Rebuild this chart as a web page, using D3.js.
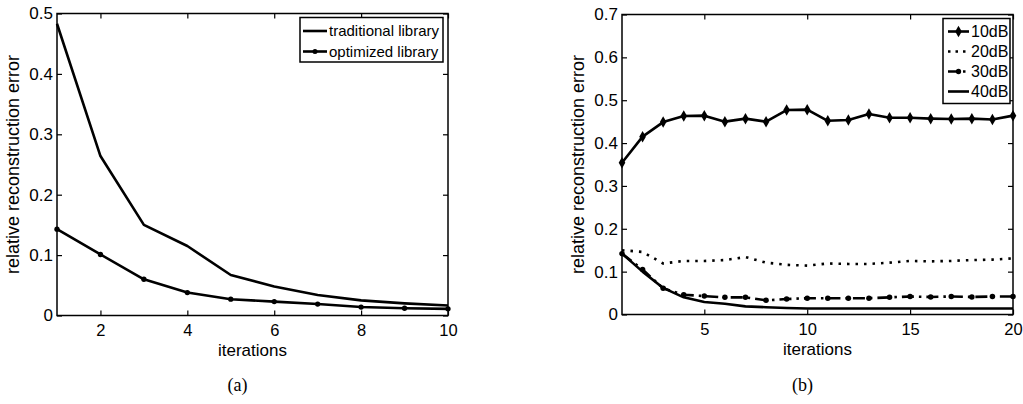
<!DOCTYPE html>
<html><head><meta charset="utf-8">
<script src="https://cdn.jsdelivr.net/npm/d3@7"></script>
<style>body{margin:0;background:#fff}svg{display:block}text{font-family:"Liberation Sans",Arial,sans-serif;fill:#000}</style>
</head><body><svg id="c" width="1023" height="404"></svg>
<script>
// Panel (a)
const itersA = [1,2,3,4,5,6,7,8,9,10];
const traditional = [0.483,0.264,0.150,0.115,0.067,0.048,0.034,0.025,0.020,0.0165];
const optimized   = [0.143,0.101,0.060,0.038,0.027,0.023,0.019,0.014,0.012,0.011];
const xTicksA = [2,4,6,8,10];
const yTicksA = [0,0.1,0.2,0.3,0.4,0.5];
const legendA = ["traditional library","optimized library"];
// Panel (b)
const itersB = d3.range(1,21);
const db10 = [0.354,0.415,0.449,0.463,0.464,0.450,0.457,0.450,0.477,0.478,0.452,0.454,0.468,0.459,0.459,0.457,0.456,0.457,0.455,0.464];
const db20 = [0.150,0.146,0.119,0.125,0.125,0.127,0.134,0.121,0.116,0.114,0.119,0.118,0.118,0.121,0.125,0.124,0.125,0.127,0.128,0.131];
const db30 = [0.142,0.105,0.061,0.046,0.043,0.040,0.040,0.033,0.036,0.038,0.038,0.038,0.038,0.040,0.042,0.041,0.042,0.041,0.042,0.042];
const db40 = [0.142,0.100,0.062,0.040,0.029,0.025,0.019,0.017,0.015,0.014,0.014,0.014,0.014,0.014,0.014,0.014,0.014,0.014,0.014,0.014];
const xTicksB = [5,10,15,20];
const yTicksB = [0,0.1,0.2,0.3,0.4,0.5,0.6,0.7];
const legendB = ["10dB","20dB","30dB","40dB"];
const ylabel = "relative reconstruction error", xlabel = "iterations";

const svg = d3.select("#c");

function panel(cfg){
  const {x0,x1,y0,y1,xd,yd,xt,yt,cap} = cfg;
  const x = d3.scaleLinear().domain(xd).range([x0,x1]);
  const y = d3.scaleLinear().domain(yd).range([y1,y0]);
  const g = svg.append("g");
  const tl = 5;
  const axB = d3.axisBottom(x).tickValues(xt).tickSize(-tl).tickPadding(9).tickFormat(d3.format("d"));
  const axT = d3.axisTop(x).tickValues(xt).tickSize(-tl).tickFormat("");
  const axL = d3.axisLeft(y).tickValues(yt).tickSize(-tl).tickPadding(4).tickFormat(d=>d===0?"0":d3.format(".1f")(d));
  const axR = d3.axisRight(y).tickValues(yt).tickSize(-tl).tickFormat("");
  [[axB,`translate(0,${y1})`,16.5],[axT,`translate(0,${y0})`,16],[axL,`translate(${x0},0)`,17],[axR,`translate(${x1},0)`,16]].forEach(([a,t,fs])=>{
    const ag = g.append("g").attr("transform",t).call(a);
    ag.select(".domain").remove();
    ag.selectAll("line").attr("stroke","#000").attr("stroke-width",1.2);
    ag.selectAll("text").attr("font-size",fs).attr("font-family","Liberation Sans, Arial, sans-serif").attr("fill","#000");
  });
  g.append("rect").attr("x",x0).attr("y",y0).attr("width",x1-x0).attr("height",y1-y0)
    .attr("fill","none").attr("stroke","#000").attr("stroke-width",1.5);
  g.append("text").attr("x",(x0+x1)/2).attr("y",y1+40.5).attr("text-anchor","middle").attr("font-size",17).text(xlabel);
  g.append("text").attr("transform",`translate(${x0-38},${(y0+y1)/2}) rotate(-90)`).attr("text-anchor","middle").attr("font-size",18).text(ylabel);
  g.append("text").attr("x",(x0+x1)/2-15).attr("y",391).attr("text-anchor","middle").attr("font-size",18)
    .style("font-family","Liberation Serif, Times New Roman, serif").text(cap);
  return {x,y,g};
}

function sym(type,size){ return d3.symbol().type(type==="diamond"?d3.symbolDiamond:d3.symbolCircle).size(size); }

function drawLine(p, xs, ys, dash, marker, msize){
  const line = d3.line().x((d,i)=>p.x(xs[i])).y(d=>p.y(d));
  p.g.append("path").attr("d",line(ys)).attr("fill","none").attr("stroke","#000").attr("stroke-width",2.6)
    .attr("stroke-dasharray",dash||null).attr("stroke-linejoin","round");
  if(marker){
    p.g.selectAll(null).data(ys).enter().append("path").attr("d",sym(marker,msize))
      .attr("transform",(d,i)=>`translate(${p.x(xs[i])},${p.y(d)})`)
      .attr("fill","#000");
  }
}

const pA = panel({x0:57,x1:448,y0:13.5,y1:315.5,xd:[1,10],yd:[0,0.5],xt:xTicksA,yt:yTicksA,cap:"(a)"});
drawLine(pA, itersA, traditional, null, null);
drawLine(pA, itersA, optimized, null, "circle", 22);

const pB = panel({x0:622,x1:1013,y0:14.5,y1:314.5,xd:[1,20],yd:[0,0.7],xt:xTicksB,yt:yTicksB,cap:"(b)"});
drawLine(pB, itersB, db10, null, "diamond", 38);
drawLine(pB, itersB, db20, "2.5,6", null);
drawLine(pB, itersB, db30, "12,5,2.5,5", "circle", 24);
drawLine(pB, itersB, db40, null, null);

function legend(bx,by,bw,bh,entries){
  const g = svg.append("g");
  g.append("rect").attr("x",bx).attr("y",by).attr("width",bw).attr("height",bh).attr("fill","#fff").attr("stroke","#000").attr("stroke-width",1.5);
  entries.forEach(e=>{
    const yy = e.y;
    g.append("line").attr("x1",e.lx0).attr("x2",e.lx1).attr("y1",yy).attr("y2",yy).attr("stroke","#000").attr("stroke-width",2.6)
      .attr("stroke-dasharray",e.dash||null);
    if(e.marker){
      g.append("path").attr("d",sym(e.marker,e.ms)).attr("transform",`translate(${(e.lx0+e.lx1)/2},${yy})`).attr("fill","#000");
    }
    g.append("text").attr("x",e.lx1+2).attr("y",yy).attr("dy","0.36em").attr("font-size",e.fs).text(e.label);
  });
}
legend(300,17.5,143,44.5,[
  {y:31,lx0:303,lx1:327,label:legendA[0],fs:15},
  {y:51.5,lx0:303,lx1:327,label:legendA[1],marker:"circle",ms:20,fs:15}
]);
legend(943,18.5,67,85,[
  {y:31.5,lx0:948,lx1:969,label:legendB[0],marker:"diamond",ms:38,fs:16},
  {y:51.5,lx0:948,lx1:969,label:legendB[1],dash:"2.5,5",fs:16},
  {y:71.5,lx0:948,lx1:969,label:legendB[2],dash:"11,4,2.5,4",marker:"circle",ms:22,fs:16},
  {y:91.5,lx0:948,lx1:969,label:legendB[3],fs:16}
]);
</script></body></html>
